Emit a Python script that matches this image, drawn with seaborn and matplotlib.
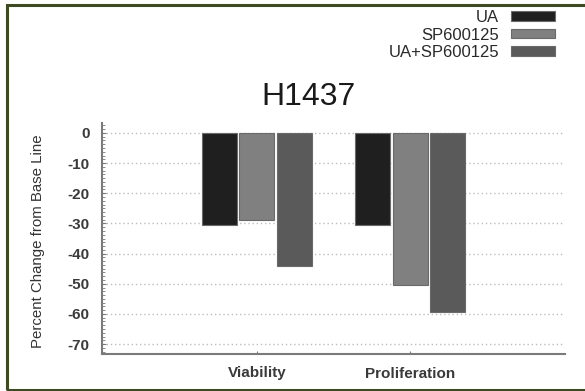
import matplotlib
matplotlib.use("Agg")
import matplotlib.pyplot as plt
import matplotlib.patches as mpatches
from matplotlib.ticker import AutoMinorLocator
import pandas as pd
import seaborn as sns

# Measured outcomes (percent change from baseline) for cell line H1437
assays = ["Viability", "Proliferation"]
treatments = ["UA", "SP600125", "UA+SP600125"]
ua_change = [-30.5, -30.5]
sp_change = [-29.0, -50.5]
combo_change = [-44.0, -59.5]
bar_colors = ["#1f1f1f", "#808080", "#5a5a5a"]
y_ticks = [0, -10, -20, -30, -40, -50, -60, -70]

df = pd.DataFrame({
    "assay": assays * 3,
    "treatment": [t for t in treatments for _ in assays],
    "change": ua_change + sp_change + combo_change,
})

sns.set_theme(style="white")
plt.rcParams["font.family"] = ["Liberation Sans", "DejaVu Sans"]
plt.rcParams["axes.unicode_minus"] = False

W, H = 585, 391
fig = plt.figure(figsize=(W / 100, H / 100), dpi=100)
left, right, top, bottom = 102, 565, 123, 354
ax = fig.add_axes([left / W, 1 - bottom / H, (right - left) / W, (bottom - top) / H])

sns.barplot(data=df, x="assay", y="change", hue="treatment",
            order=assays, hue_order=treatments, palette=bar_colors,
            width=0.735, gap=0.07, edgecolor="#6a6a6a", linewidth=0.8,
            errorbar=None, ax=ax, legend=True, zorder=3)

ax.set_xlim(-1.01, 2.01)
ax.set_ylim(-73.3, 3.3)
ax.set_yticks(y_ticks)
ax.yaxis.set_minor_locator(AutoMinorLocator(8))
ax.grid(axis="y", which="major", linestyle=(0, (1, 2)), color="#bdbdbd", linewidth=1, zorder=0)
ax.set_xlabel("")
ax.set_ylabel("")

for s in ["top", "right"]:
    ax.spines[s].set_visible(False)
for s in ["left", "bottom"]:
    ax.spines[s].set_color("#7a7a7a")
    ax.spines[s].set_linewidth(1.5)

ax.tick_params(axis="y", which="major", direction="in", length=3, width=0.8,
               color="#7a7a7a", left=True, pad=9, labelsize=11, labelcolor="#3a3a3a")
ax.tick_params(axis="y", which="minor", direction="in", length=2, width=0.6,
               color="#7a7a7a", left=True)
ax.tick_params(axis="x", which="major", direction="in", length=2, width=0.8,
               color="#7a7a7a", bottom=True, pad=9, labelsize=11, labelcolor="#3a3a3a")
for lab in ax.get_yticklabels() + ax.get_xticklabels():
    lab.set_fontweight("bold")

fig.text(38 / W, 1 - 241 / H, "Percent Change from Base Line", rotation=90,
         ha="center", va="center", fontsize=10.8, color="#333333")
fig.text(308 / W, 1 - 105 / H, "H1437", ha="center", va="baseline",
         fontsize=23, color="#1a1a1a")

handles, labels = ax.get_legend_handles_labels()
ax.get_legend().remove()
fig.legend(handles, labels, loc="upper right", bbox_to_anchor=(555 / W, 1 - 10 / H),
           frameon=False, markerfirst=False, fontsize=12, labelspacing=0.15,
           handlelength=2.64, handleheight=0.48, handletextpad=0.72,
           borderpad=0, borderaxespad=0, labelcolor="#2a2a2a")
leg = fig.legends[0]
for t in leg.get_texts():
    t.set_ha("right")

# Olive frame around the figure (open on the right side)
fig.patches.append(mpatches.Rectangle((6.5 / W, 1.5 / H), 1.2, 1 - 6.5 / H,
                                      transform=fig.transFigure, fill=False,
                                      edgecolor="#3e4a22", linewidth=2.2, zorder=10))

fig.savefig("out.png", dpi=100)
